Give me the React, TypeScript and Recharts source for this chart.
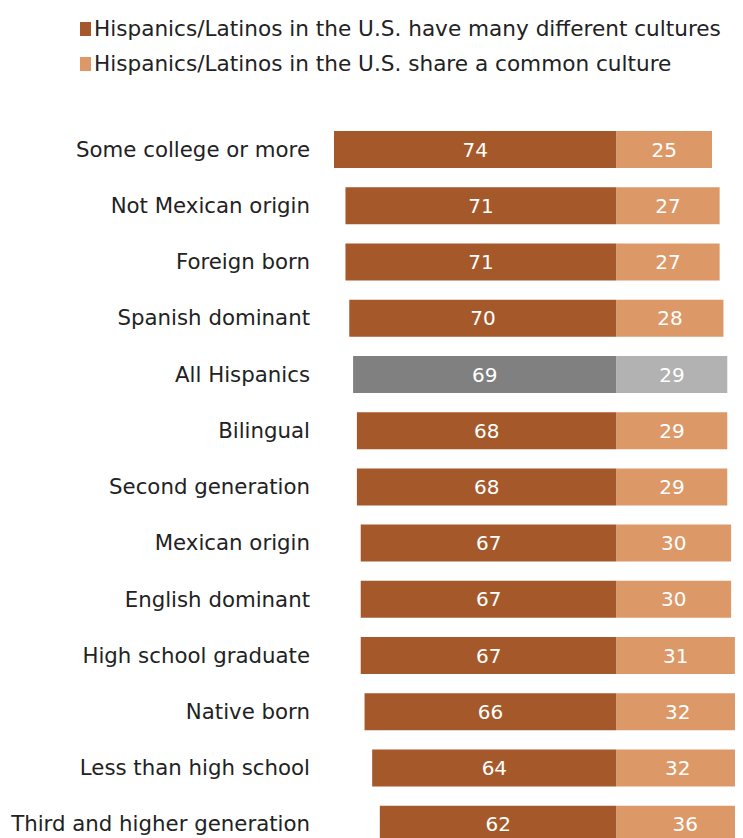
import { BarChart, Bar, XAxis, YAxis, Cell, LabelList } from 'recharts'

const categories = [
  'Some college or more',
  'Not Mexican origin',
  'Foreign born',
  'Spanish dominant',
  'All Hispanics',
  'Bilingual',
  'Second generation',
  'Mexican origin',
  'English dominant',
  'High school graduate',
  'Native born',
  'Less than high school',
  'Third and higher generation',
]
const manyCultures = [74, 71, 71, 70, 69, 68, 68, 67, 67, 67, 66, 64, 62]
const commonCulture = [25, 27, 27, 28, 29, 29, 29, 30, 30, 31, 32, 32, 36]
const seriesNames = [
  'Hispanics/Latinos in the U.S. have many different cultures',
  'Hispanics/Latinos in the U.S. share a common culture',
]
const highlight = 'All Hispanics'

const DARK = '#a5592a'
const LIGHT = '#dd9868'
const GRAY_DARK = '#808080'
const GRAY_LIGHT = '#b2b2b2'
const FONT = '"DejaVu Sans", Verdana, sans-serif'

const data = categories.map((c, i) => ({
  name: c,
  many: -manyCultures[i],
  common: commonCulture[i],
}))

export default function App() {
  return (
    <div style={{ position: 'relative', width: 732, height: 830, overflow: 'hidden', fontFamily: FONT }}>
      {/* legend drawn in html so it doesn't push the plot down */}
      <div style={{ position: 'absolute', left: 72, top: 3, fontSize: 21.6, color: '#222', lineHeight: '35px' }}>
        {seriesNames.map((s, i) => (
          <div key={s} style={{ display: 'flex', alignItems: 'center', whiteSpace: 'nowrap' }}>
            <span style={{ display: 'inline-block', width: 11, height: 14, background: i === 0 ? DARK : LIGHT, marginRight: 3 }} />
            {s}
          </div>
        ))}
      </div>
      <BarChart
        width={760}
        height={900}
        data={data}
        layout="vertical"
        stackOffset="sign"
        barSize={37}
        margin={{ top: 113, right: 14, bottom: 56, left: 0 }}
      >
        <XAxis type="number" hide domain={[-74, 36]} />
        <YAxis
          type="category"
          dataKey="name"
          width={326}
          tickSize={0}
          tickMargin={24}
          axisLine={false}
          tickLine={false}
          tick={{ fontSize: 21.3, fill: '#222', fontFamily: FONT }}
        />
        <Bar dataKey="many" stackId="a" isAnimationActive={false}>
          {data.map((d) => (
            <Cell key={d.name} fill={d.name === highlight ? GRAY_DARK : DARK} />
          ))}
          <LabelList
            dataKey="many"
            position="center"
            formatter={(v: any) => Math.abs(Number(v))}
            style={{ fill: '#fff', fontSize: 20, fontFamily: FONT }}
          />
        </Bar>
        <Bar dataKey="common" stackId="a" isAnimationActive={false}>
          {data.map((d) => (
            <Cell key={d.name} fill={d.name === highlight ? GRAY_LIGHT : LIGHT} />
          ))}
          <LabelList
            dataKey="common"
            position="center"
            style={{ fill: '#fff', fontSize: 20, fontFamily: FONT }}
          />
        </Bar>
      </BarChart>
    </div>
  )
}
